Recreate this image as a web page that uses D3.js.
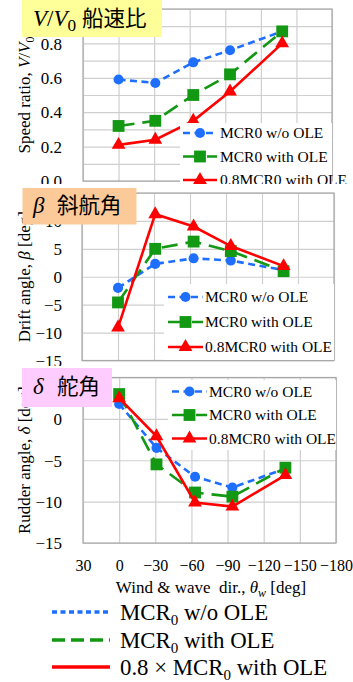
<!DOCTYPE html>
<html>
<head>
<meta charset="utf-8">
<script src="https://cdn.jsdelivr.net/npm/d3@7"></script>
<style>
  body { margin: 0; background: #fff; }
  svg { display: block; }
</style>
</head>
<body>
<script>
// Wind & wave directions of the measured points [deg]
const directions = [0, -31, -63, -94, -138];
const xTickValues = [30, 0, -30, -60, -90, -120, -150, -180];
const seriesNames = ["MCR0 w/o OLE", "MCR0 with OLE", "0.8MCR0 with OLE"];

// Speed ratio V/V0
const speedWithout = [0.59, 0.57, 0.69, 0.76, 0.87];
const speedWith    = [0.32, 0.35, 0.50, 0.62, 0.87];
const speed08With  = [0.21, 0.24, 0.35, 0.52, 0.80];
const speedTicks = [0.0, 0.2, 0.4, 0.6, 0.8, 1.0];

// Drift angle beta [deg]
const driftWithout = [-2.0, 2.3, 3.3, 2.9, 1.2];
const driftWith    = [-4.6, 5.0, 6.3, 4.6, 1.0];
const drift08With  = [-9.1, 11.2, 9.0, 5.5, 1.9];
const driftTicks = [-15, -10, -5, 0, 5, 10, 15];

// Rudder angle delta [deg]
const rudderWithout = [1.8, -3.5, -7.0, -8.3, -6.0];
const rudderWith    = [3.0, -5.5, -8.9, -9.4, -5.9];
const rudder08With  = [2.5, -2.1, -10.1, -10.6, -6.8];
const rudderTicks = [-15, -10, -5, 0, 5];

const W = 353, H = 682;
const SERIF = "'Liberation Serif','Times New Roman',serif";
const CJK = "'Noto Sans CJK JP','Noto Sans CJK SC',sans-serif";

const styles = [
  { color: "#1f6fff", dash: "7,4.5", symbol: d3.symbolCircle, size: 80 },
  { color: "#129812", dash: "16,8", symbol: d3.symbolSquare, size: 140 },
  { color: "#ff0000", dash: null, symbol: d3.symbolTriangle, size: 82 }
];

const svg = d3.select("body").append("svg")
  .attr("width", W).attr("height", H);
const defs = svg.append("defs");

const panels = [
  {
    id: "speed", clip: [0, 184], xr: [83, 332], yr: [181, 9], domain: [0, 1],
    ticks: speedTicks, grid: d3.range(0, 1.0001, 0.1), fmt: d3.format(".1f"),
    series: [speedWithout, speedWith, speed08With],
    legend: { box: [180, 123, 152, 70], x0: 183, x1: 217, tx: 220, rows: [133, 156.5, 180] },
    yTitle: [{ t: "Speed ratio, " }, { t: "V", i: true }, { t: "/" }, { t: "V", i: true }, { t: "0", sub: true }],
    badge: { box: [22, 0, 140, 37], fill: "#ffff99", sym: [{ t: "V", i: true }, { t: "/" }, { t: "V", i: true }, { t: "0", sub: true }], base: 26, cjk: "船速比", cjkX: 82 }
  },
  {
    id: "drift", clip: [185, 366], xr: [82, 334], yr: [360.5, 193], domain: [-15, 15],
    ticks: driftTicks, grid: driftTicks, fmt: d3.format("d"),
    series: [driftWithout, driftWith, drift08With],
    legend: { box: [164, 284, 170, 76], x0: 168, x1: 203, tx: 205, rows: [297, 322, 347] },
    yTitle: [{ t: "Drift angle, " }, { t: "β", i: true }, { t: " [deg]" }],
    badge: { box: [22.5, 188, 114, 36.5], fill: "#fcca99", sym: [{ t: "β", i: true }], base: 213, cjk: "斜航角", cjkX: 57 }
  },
  {
    id: "rudder", clip: [367, 600], xr: [83, 336], yr: [543, 377.5], domain: [-15, 5],
    ticks: rudderTicks, grid: rudderTicks, fmt: d3.format("d"),
    series: [rudderWithout, rudderWith, rudder08With],
    legend: { box: [168, 380, 168, 70], x0: 172, x1: 207, tx: 209, rows: [391.5, 415, 438.5] },
    yTitle: [{ t: "Rudder angle, " }, { t: "δ", i: true }, { t: " [deg]" }],
    badge: { box: [22, 368, 90, 39], fill: "#ffccff", sym: [{ t: "δ", i: true }], base: 394, cjk: "舵角", cjkX: 57 },
    xAxis: true
  }
];

// Writes a run of text pieces (italic / subscript) into a <text> element
function richText(sel, parts, subScale, subShift) {
  let back = 0;
  parts.forEach(p => {
    const ts = sel.append("tspan").text(p.t);
    if (p.i) ts.attr("font-style", "italic");
    if (p.sub) {
      ts.attr("font-size", subScale + "em").attr("dy", subShift);
      back = -subShift;
    } else if (back) {
      ts.attr("dy", back);
      back = 0;
    }
  });
}

panels.forEach(p => {
  const clipId = "clip-" + p.id;
  defs.append("clipPath").attr("id", clipId)
    .append("rect").attr("x", 0).attr("y", p.clip[0])
    .attr("width", W).attr("height", p.clip[1] - p.clip[0]);

  const g = svg.append("g").attr("clip-path", `url(#${clipId})`);
  const x = d3.scaleLinear().domain([30, -180]).range(p.xr);
  const y = d3.scaleLinear().domain(p.domain).range(p.yr);
  const pw = p.xr[1] - p.xr[0];
  const ph = p.yr[0] - p.yr[1];

  // horizontal gridlines
  g.append("g").attr("transform", `translate(${p.xr[0]},0)`)
    .call(d3.axisLeft(y).tickValues(p.grid).tickSize(-pw).tickFormat(""))
    .call(a => a.select(".domain").remove())
    .call(a => a.selectAll("text").remove())
    .call(a => a.selectAll("line").attr("stroke", "#cfcfcf").attr("stroke-width", 1.2));

  // vertical gridlines
  g.append("g").attr("transform", `translate(0,${p.yr[0]})`)
    .call(d3.axisBottom(x).tickValues(xTickValues).tickSize(-ph).tickFormat(""))
    .call(a => a.select(".domain").remove())
    .call(a => a.selectAll("text").remove())
    .call(a => a.selectAll("line").attr("stroke", "#cfcfcf").attr("stroke-width", 1.2));

  // plot frame
  g.append("rect").attr("x", p.xr[0]).attr("y", p.yr[1])
    .attr("width", pw).attr("height", ph)
    .attr("fill", "none").attr("stroke", "#a8a8a8").attr("stroke-width", 1.2);

  // y tick labels
  g.append("g").attr("transform", `translate(62,0)`)
    .call(d3.axisLeft(y).tickValues(p.ticks).tickSize(0).tickPadding(0).tickFormat(p.fmt))
    .call(a => a.select(".domain").remove())
    .call(a => a.selectAll("text").attr("font-family", SERIF).attr("font-size", 17)
      .attr("fill", "#000").attr("dy", "0.34em"));

  // y title
  const ym = (p.yr[0] + p.yr[1]) / 2;
  const yt = g.append("text")
    .attr("transform", `translate(30,${ym}) rotate(-90)`)
    .attr("text-anchor", "middle")
    .attr("font-family", SERIF).attr("font-size", 17).attr("fill", "#000");
  richText(yt, p.yTitle, 0.7, 4);

  // data lines and markers
  p.series.forEach((vals, si) => {
    const st = styles[si];
    const pts = directions.map((d, i) => [x(d), y(vals[i])]);
    g.append("path").datum(pts)
      .attr("d", d3.line())
      .attr("fill", "none").attr("stroke", st.color).attr("stroke-width", 2.6)
      .attr("stroke-dasharray", st.dash);
    g.selectAll(null).data(pts).join("path")
      .attr("transform", d => `translate(${d[0]},${d[1]})`)
      .attr("d", d3.symbol(st.symbol, st.size))
      .attr("fill", st.color);
  });

  // in-plot legend
  const L = p.legend;
  g.append("rect").attr("x", L.box[0]).attr("y", L.box[1])
    .attr("width", L.box[2]).attr("height", L.box[3]).attr("fill", "#fff");
  seriesNames.forEach((name, si) => {
    const st = styles[si];
    const ry = L.rows[si];
    g.append("line").attr("x1", L.x0).attr("x2", L.x1).attr("y1", ry).attr("y2", ry)
      .attr("stroke", st.color).attr("stroke-width", 2.6).attr("stroke-dasharray", st.dash);
    g.append("path").attr("transform", `translate(${(L.x0 + L.x1) / 2},${ry})`)
      .attr("d", d3.symbol(st.symbol, st.size)).attr("fill", st.color);
    g.append("text").attr("x", L.tx).attr("y", ry + 5.3)
      .attr("font-family", SERIF).attr("font-size", 15.5).attr("fill", "#000")
      .text(name);
  });

  // x axis labels and title
  if (p.xAxis) {
    g.append("g").attr("transform", `translate(0,${p.yr[0]})`)
      .call(d3.axisBottom(x).tickValues(xTickValues).tickSize(0).tickPadding(0).tickFormat(d3.format("d")))
      .call(a => a.select(".domain").remove())
      .call(a => a.selectAll("text").attr("font-family", SERIF).attr("font-size", 16)
        .attr("fill", "#000").attr("y", 28).attr("dy", 0));
    const xt = g.append("text").attr("x", 211).attr("y", 593)
      .attr("text-anchor", "middle").attr("font-family", SERIF).attr("font-size", 17).attr("fill", "#000");
    xt.append("tspan").text("Wind & wave\u00a0\u00a0dir., ");
    xt.append("tspan").text("θ").attr("font-style", "italic");
    xt.append("tspan").text("w").attr("font-style", "italic").attr("font-size", "0.7em").attr("dy", 4);
    xt.append("tspan").text(" [deg]").attr("dy", -4);
  }

  // panel badge
  const b = p.badge;
  svg.append("rect").attr("x", b.box[0]).attr("y", b.box[1])
    .attr("width", b.box[2]).attr("height", b.box[3]).attr("fill", b.fill);
  const bt = svg.append("text").attr("x", 33).attr("y", b.base)
    .attr("font-family", SERIF).attr("font-size", 23).attr("fill", "#000");
  richText(bt, b.sym, 0.75, 5);
  svg.append("text").attr("x", b.cjkX).attr("y", b.base)
    .attr("font-family", CJK).attr("font-size", 21.5).attr("fill", "#000")
    .text(b.cjk);
});

// bottom legend
const bottomLegend = [
  { parts: [{ t: "MCR" }, { t: "0", sub: true }, { t: " w/o OLE" }], dash: "5,3.5" },
  { parts: [{ t: "MCR" }, { t: "0", sub: true }, { t: " with OLE" }], dash: "13,6" },
  { parts: [{ t: "0.8 × MCR" }, { t: "0", sub: true }, { t: " with OLE" }], dash: null }
];
const legendRows = [612, 640, 667];
bottomLegend.forEach((e, i) => {
  const ry = legendRows[i];
  svg.append("line").attr("x1", 52).attr("x2", 110).attr("y1", ry).attr("y2", ry)
    .attr("stroke", styles[i].color).attr("stroke-width", 3.6)
    .attr("stroke-dasharray", e.dash);
  const t = svg.append("text").attr("x", 120).attr("y", ry + 7.5)
    .attr("font-family", SERIF).attr("font-size", 22.8).attr("fill", "#000");
  richText(t, e.parts, 0.66, 5);
});
</script>
</body>
</html>
